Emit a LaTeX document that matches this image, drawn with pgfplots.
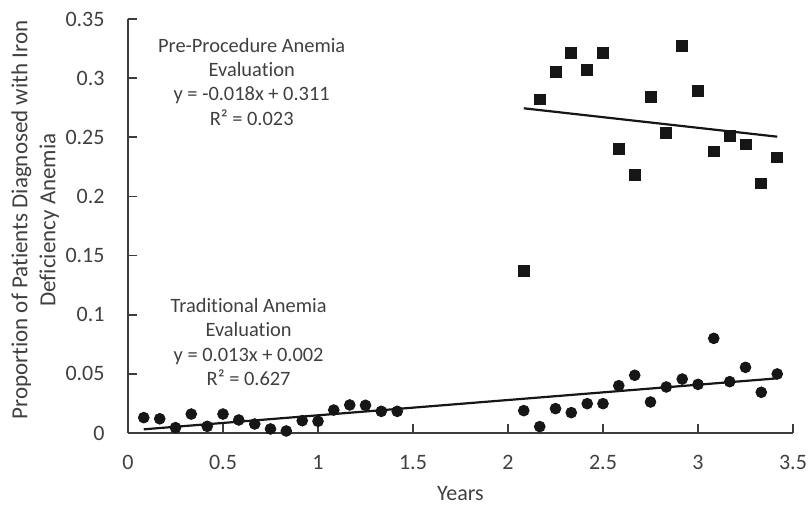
\documentclass[border=0pt]{standalone}
\usepackage{fontspec}
\setmainfont{Carlito}[Ligatures=NoCommon]
\usepackage{pgfplots}
\pgfplotsset{compat=1.18}
\definecolor{txt}{RGB}{64,64,64}
\definecolor{mk}{RGB}{22,22,22}
\definecolor{axln}{RGB}{60,60,60}

\begin{document}
\begin{tikzpicture}
  \path[use as bounding box] (-64pt,-36.5pt) rectangle (340pt,216.5pt);
  \begin{axis}[
    at={(0,0)}, anchor=south west,
    scale only axis, width=332.5pt, height=207pt,
    xmin=0, xmax=3.5, ymin=0, ymax=0.35,
    xtick distance=0.5, ytick distance=0.05,
    axis x line*=bottom, axis y line*=left,
    axis line style={axln, line width=0.8pt},
    tick style={axln, line width=0.8pt},
    tick align=inside, major tick length=4.5pt,
    font=\fontsize{11}{13}\selectfont,
    every tick label/.append style={text=txt, font=\fontsize{11}{13}\selectfont},
    /pgf/number format/assume math mode=true,
    /pgf/number format/fixed,
    xticklabel style={anchor=base, yshift=-18.5pt},
    yticklabel style={anchor=east, xshift=-8.2pt},
    xlabel={Years},
    xlabel style={at={(axis description cs:0.5,0)}, anchor=base, yshift=-34pt, text=txt},
    ylabel={Proportion of Patients Diagnosed with Iron\\Deficiency Anemia},
    ylabel style={at={(rel axis cs:-0.1395,0.5145)}, anchor=center, align=center, text=txt,
      font=\fontsize{11.5}{14}\selectfont},
    clip=false
  ]
  % pre-procedure anemia evaluation
  \addplot[only marks, mark=square*, mark size=2.7pt, mark options={draw=mk, fill=mk}] coordinates {
    (2.083,0.137) (2.167,0.282) (2.25,0.305) (2.333,0.321) (2.417,0.307) (2.5,0.321)
    (2.583,0.240) (2.667,0.218) (2.75,0.284) (2.833,0.254) (2.917,0.327) (3.0,0.289)
    (3.083,0.238) (3.167,0.251) (3.25,0.244) (3.333,0.211) (3.417,0.233)
  };
  \addplot[mk, line width=1.1pt] coordinates {(2.083,0.2745) (3.417,0.2505)};
  % traditional anemia evaluation
  \addplot[only marks, mark=*, mark size=2.7pt, mark options={draw=mk, fill=mk}] coordinates {
    (0.083,0.013) (0.167,0.012) (0.25,0.0045) (0.333,0.016) (0.417,0.0056) (0.5,0.016)
    (0.583,0.011) (0.667,0.0076) (0.75,0.0034) (0.833,0.0017) (0.917,0.0104) (1.0,0.0099)
    (1.083,0.0194) (1.167,0.0237) (1.25,0.0234) (1.333,0.0183) (1.417,0.0183)
    (2.083,0.0189) (2.167,0.0054) (2.25,0.0206) (2.333,0.0172) (2.417,0.0248) (2.5,0.0248)
    (2.583,0.040) (2.667,0.0488) (2.75,0.0262) (2.833,0.0389) (2.917,0.0456) (3.0,0.0411)
    (3.083,0.080) (3.167,0.0434) (3.25,0.0555) (3.333,0.0344) (3.417,0.0499)
  };
  \addplot[mk, line width=1.1pt] coordinates {(0.083,0.0031) (3.417,0.0462)};

  \node[align=center, text=txt, font=\fontsize{10.2}{12.2}\selectfont] at (axis cs:0.651,0.297)
    {Pre-Procedure Anemia\\Evaluation\\y = -0.018x + 0.311\\R² = 0.023};
  \node[align=center, text=txt, font=\fontsize{10.2}{12.2}\selectfont] at (axis cs:0.635,0.0769)
    {Traditional Anemia\\Evaluation\\y = 0.013x + 0.002\\R² = 0.627};
  \end{axis}
\end{tikzpicture}
\end{document}
